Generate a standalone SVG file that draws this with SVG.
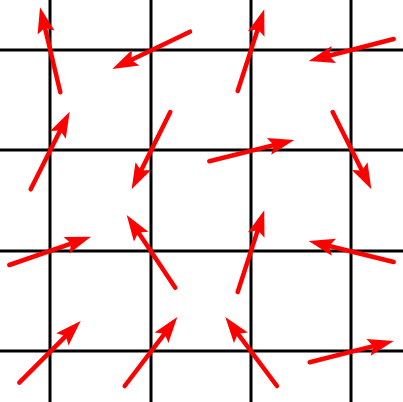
<svg xmlns="http://www.w3.org/2000/svg" width="403" height="402" viewBox="0 0 403 402">
<style>
.grid line{stroke:#000;stroke-width:3}
.arrows line{stroke:#ff0000;stroke-width:4.5;stroke-linecap:round;marker-end:url(#head)}
</style>
<defs>
<marker id="head" markerUnits="userSpaceOnUse" orient="auto" refX="0" refY="0" markerWidth="1" markerHeight="1" overflow="visible">
<path d="M18,0 L-8,-8.7 L-3,0 L-8,8.7 Z" fill="#ff0000"/>
</marker>
</defs>
<rect width="403" height="402" fill="#fff"/>
<g id="grid" class="grid">
<line x1="50" y1="0" x2="50" y2="402"/>
<line x1="151" y1="0" x2="151" y2="402"/>
<line x1="251" y1="0" x2="251" y2="402"/>
<line x1="351" y1="0" x2="351" y2="402"/>
<line x1="0" y1="50" x2="403" y2="50"/>
<line x1="0" y1="150" x2="403" y2="150"/>
<line x1="0" y1="251" x2="403" y2="251"/>
<line x1="0" y1="351" x2="403" y2="351"/>
</g>
<g id="arrows" class="arrows">
<line x1="60.3" y1="92.3" x2="44.2" y2="24.8"/>
<line x1="190" y1="31.7" x2="128.5" y2="61.2"/>
<line x1="30.7" y1="189.3" x2="61.6" y2="127.8"/>
<line x1="170.3" y1="112" x2="139.7" y2="173.2"/>
<line x1="237.7" y1="91" x2="258.7" y2="26.4"/>
<line x1="393.7" y1="39" x2="326.1" y2="56.5"/>
<line x1="209.3" y1="161.3" x2="276.8" y2="144.4"/>
<line x1="332.7" y1="112" x2="363.3" y2="173.2"/>
<line x1="9.3" y1="265" x2="74" y2="242.6"/>
<line x1="175.3" y1="287.7" x2="136.7" y2="230"/>
<line x1="19.3" y1="382.7" x2="68" y2="333.8"/>
<line x1="124.7" y1="386" x2="166.4" y2="331.3"/>
<line x1="237.7" y1="292" x2="258.7" y2="227.4"/>
<line x1="393.7" y1="262" x2="326.2" y2="245.3"/>
<line x1="277" y1="386" x2="236.1" y2="331.4"/>
<line x1="309.7" y1="362.3" x2="376.3" y2="345.4"/>
</g>
</svg>
